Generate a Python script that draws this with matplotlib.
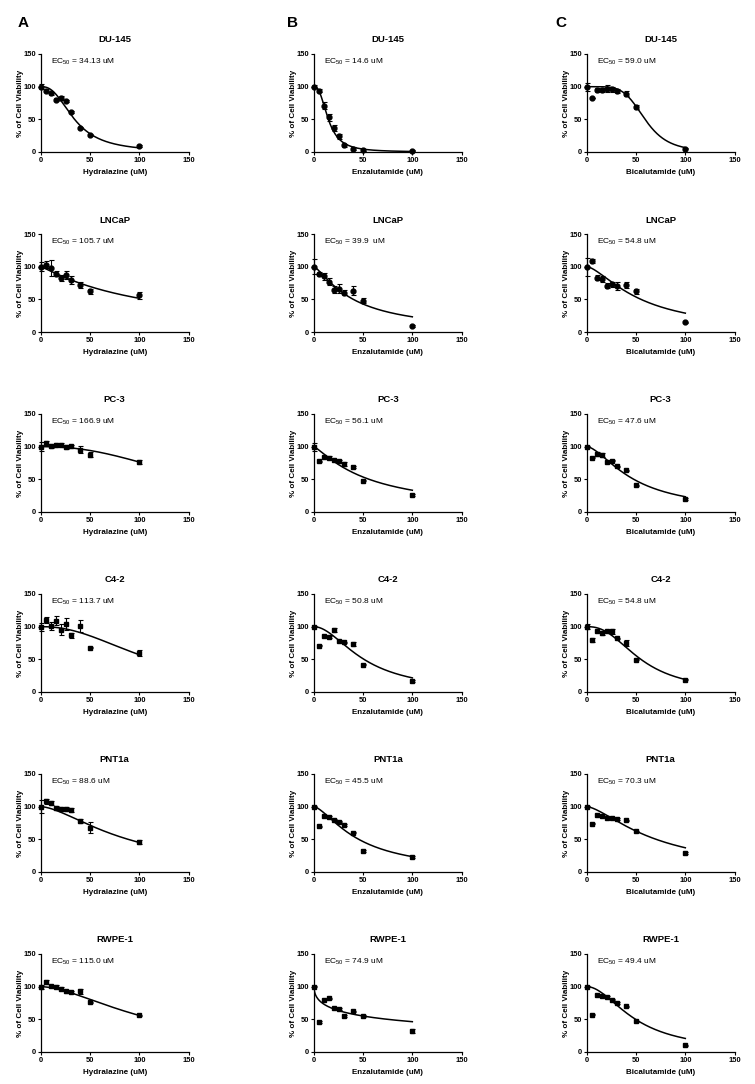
import numpy as np
import matplotlib
matplotlib.use("Agg")
import matplotlib.pyplot as plt

plt.rcParams['font.family'] = ['Liberation Sans', 'DejaVu Sans']
plt.rcParams['mathtext.fontset'] = 'custom'
plt.rcParams['mathtext.rm'] = 'Liberation Sans'
plt.rcParams['mathtext.default'] = 'regular'

# ---------------- data ----------------
conc = [0, 5, 10, 15, 20, 25, 30, 40, 50, 100]
cell_lines = ["DU-145", "LNCaP", "PC-3", "C4-2", "PNT1a", "RWPE-1"]
drugs = ["Hydralazine", "Enzalutamide", "Bicalutamide"]
panel_letters = ["A", "B", "C"]

# Hydralazine (column A)
hyd_du145 = [100, 94, 90, 80, 82, 78, 61, 37, 26, 9]
hyd_du145_err = [4, 2, 2, 2, 3, 2, 2, 2, 2, 1]
hyd_lncap = [100, 103, 98, 89, 83, 87, 80, 72, 62, 56]
hyd_lncap_err = [7, 5, 12, 4, 5, 6, 6, 4, 4, 5]
hyd_pc3 = [100, 106, 101.5, 102.5, 103, 99.5, 100.5, 95.5, 88, 76]
hyd_pc3_err = [7, 2, 3, 3, 2, 3, 2, 5, 4, 3]
hyd_c42 = [100, 110, 101.5, 109, 95.5, 104.5, 87, 101.5, 68, 60]
hyd_c42_err = [6, 5, 6, 7, 9, 9, 4, 9, 1, 5]
hyd_pnt1a = [100, 108, 105, 98, 97, 96, 95, 78, 68, 46]
hyd_pnt1a_err = [10, 4, 3, 3, 3, 3, 3, 3, 8, 3]
hyd_rwpe1 = [100, 107, 101, 100, 97, 93, 92, 93, 76, 56]
hyd_rwpe1_err = [3, 3, 2, 2, 2, 2, 2, 4, 1, 1]

# Enzalutamide (column B)
enz_du145 = [100, 94, 71, 53, 37, 24, 10, 5, 3, 2]
enz_du145_err = [2, 2, 5, 5, 5, 4, 2, 2, 1, 1]
enz_lncap = [100, 89, 85, 77, 65, 66, 60, 63, 48, 9]
enz_lncap_err = [11, 3, 6, 5, 6, 7, 4, 7, 4, 1]
enz_pc3 = [100, 77.5, 84, 83, 79, 77.5, 73.5, 69, 48, 26]
enz_pc3_err = [6, 1, 2, 2, 1, 2, 3, 1, 1, 1]
enz_c42 = [100, 71, 85, 84, 95.5, 78.5, 76, 74, 42, 17]
enz_c42_err = [1, 1, 1, 1, 3, 1, 1, 3, 1, 1]
enz_pnt1a = [100, 70, 85, 84, 80, 77, 72, 60, 32, 23]
enz_pnt1a_err = [1, 1, 1, 1, 1, 1, 1, 1, 1, 1]
enz_rwpe1 = [100, 46, 80, 82, 67, 66, 55, 62, 55, 32]
enz_rwpe1_err = [1, 1, 1, 1, 1, 1, 1, 1, 1, 3]

# Bicalutamide (column C)
bic_du145 = [100, 82, 95, 95, 97, 96, 93, 89, 69, 5]
bic_du145_err = [6, 0, 3, 3, 5, 4, 3, 4, 3, 1]
bic_lncap = [100, 109, 83, 81, 71, 73, 71, 72, 62, 15]
bic_lncap_err = [14, 3, 4, 4, 4, 4, 6, 4, 4, 1]
bic_pc3 = [100, 83, 89, 87.5, 76.5, 78.5, 70, 64, 41, 20]
bic_pc3_err = [1, 1, 3, 3, 1, 1, 1, 1, 1, 1]
bic_c42 = [100, 79, 93, 91, 94, 93, 82, 75, 49.5, 19]
bic_c42_err = [4, 3, 1, 3, 1, 4, 1, 5, 1, 1]
bic_pnt1a = [100, 74, 88, 85, 83, 82, 81, 79, 62, 29]
bic_pnt1a_err = [1, 1, 1, 1, 1, 1, 1, 1, 1, 1]
bic_rwpe1 = [100, 57, 88, 86, 84, 80, 75, 70, 47, 10]
bic_rwpe1_err = [1, 1, 1, 1, 1, 1, 1, 1, 1, 1]

# fitted curve parameters (EC50 as labelled, Hill slope estimated)
hyd_ec50 = [34.13, 105.7, 166.9, 113.7, 88.6, 115.0]
hyd_hill = [2.5, 1.1, 2.3, 2.2, 1.6, 1.7]
enz_ec50 = [14.6, 39.9, 56.1, 50.8, 45.5, 74.9]
enz_hill = [2.5, 1.3, 1.2, 1.9, 1.5, 0.5]
bic_ec50 = [59.0, 54.8, 47.6, 54.8, 70.3, 49.4]
bic_hill = [5.0, 1.5, 1.6, 2.4, 1.5, 1.9]

hyd_labels = ["34.13 uM", "105.7 uM", "166.9 uM", "113.7 uM", "88.6 uM", "115.0 uM"]
enz_labels = ["14.6 uM", "39.9  uM", "56.1 uM", "50.8 uM", "45.5 uM", "74.9 uM"]
bic_labels = ["59.0 uM", "54.8 uM", "47.6 uM", "54.8 uM", "70.3 uM", "49.4 uM"]

markers = ["o", "o", "s", "s", "s", "s"]

values = [
    [hyd_du145, hyd_lncap, hyd_pc3, hyd_c42, hyd_pnt1a, hyd_rwpe1],
    [enz_du145, enz_lncap, enz_pc3, enz_c42, enz_pnt1a, enz_rwpe1],
    [bic_du145, bic_lncap, bic_pc3, bic_c42, bic_pnt1a, bic_rwpe1],
]
errors = [
    [hyd_du145_err, hyd_lncap_err, hyd_pc3_err, hyd_c42_err, hyd_pnt1a_err, hyd_rwpe1_err],
    [enz_du145_err, enz_lncap_err, enz_pc3_err, enz_c42_err, enz_pnt1a_err, enz_rwpe1_err],
    [bic_du145_err, bic_lncap_err, bic_pc3_err, bic_c42_err, bic_pnt1a_err, bic_rwpe1_err],
]
ec50s = [hyd_ec50, enz_ec50, bic_ec50]
hills = [hyd_hill, enz_hill, bic_hill]
labels = [hyd_labels, enz_labels, bic_labels]

# ---------------- figure ----------------
W, H = 755, 1084
fig = plt.figure(figsize=(W / 100, H / 100), dpi=100)

col_left = [41, 314, 587]
ax_w = 147.5
ax_h = 98
row_top0 = 54
row_step = 180

for c in range(3):
    for r in range(6):
        top = row_top0 + r * row_step
        ax = fig.add_axes([col_left[c] / W, 1 - (top + ax_h) / H, ax_w / W, ax_h / H])
        y = values[c][r]
        e = errors[c][r]
        ax.errorbar(conc, y, yerr=e, fmt=markers[r],
                    color='black', ms=3.5, elinewidth=0.8, capsize=1.8,
                    capthick=0.8, clip_on=False, zorder=3)
        xs = np.linspace(0, 100, 300)
        ys = 100.0 / (1.0 + (xs / ec50s[c][r]) ** hills[c][r])
        ax.plot(xs, ys, color='black', lw=1.1, zorder=2)

        ax.set_xlim(0, 150)
        ax.set_ylim(0, 150)
        ax.set_xticks([0, 50, 100, 150])
        ax.set_yticks([0, 50, 100, 150])
        for s in ['top', 'right']:
            ax.spines[s].set_visible(False)
        for s in ['left', 'bottom']:
            ax.spines[s].set_linewidth(0.9)
        ax.tick_params(axis='both', length=2.2, width=0.8, pad=1.2,
                       labelsize=5.4, direction='out')
        for lab in ax.get_xticklabels() + ax.get_yticklabels():
            lab.set_fontweight('bold')

        ax.text(0.5, 1 + 14 / ax_h, cell_lines[r], transform=ax.transAxes,
                ha='center', va='center', fontsize=6.8, fontweight='bold')
        ax.text(0.5, -20 / ax_h, f"{drugs[c]} (uM)", transform=ax.transAxes,
                ha='center', va='center', fontsize=5.8, fontweight='bold')
        ax.text(-20.5 / ax_w, 0.5, "% of Cell Viability", transform=ax.transAxes,
                ha='center', va='center', rotation=90, fontsize=5.8,
                fontweight='bold')
        ax.text(10, 138, r"EC$_{50}$" + " = " + labels[c][r], ha='left',
                va='center', fontsize=6.0)

letter_x = [23, 293, 561]
for c in range(3):
    fig.text(letter_x[c] / W, 1 - 23 / H, panel_letters[c], ha='center',
             va='center', fontsize=11, fontweight='bold')

fig.savefig("out.png", dpi=100)
